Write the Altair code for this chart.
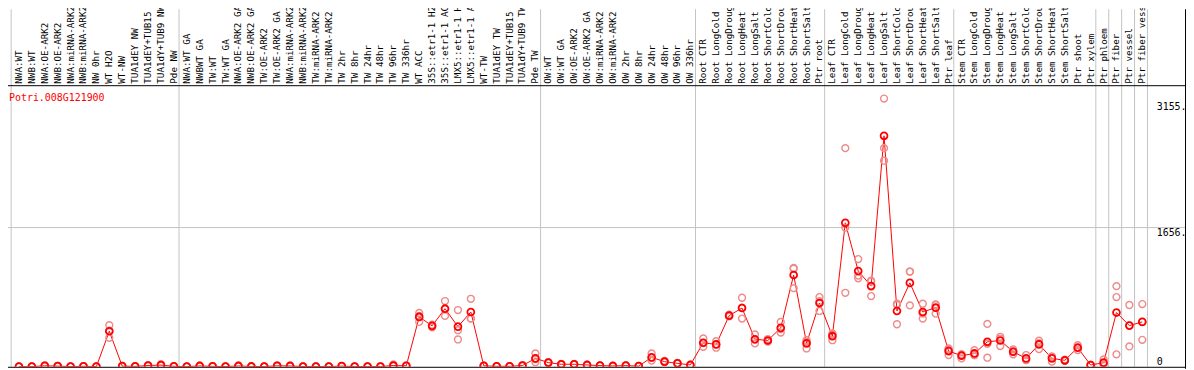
import altair as alt
import pandas as pd

gene = ["Potri.008G121900"]

labels = [
    "NWA:WT", "NWB:WT", "NWA:OE-ARK2", "NWB:OE-ARK2", "NWA:miRNA-ARK2", "NWB:miRNA-ARK2",
    "NW 0hr", "WT H2O", "WT-NW", "TUA1dEY NW", "TUA1dEY+TUB15 NW", "TUA1dY+TUB9 NW", "Pde NW",
    "NWA:WT GA", "NWBWT GA", "TW:WT", "TW:WT GA", "NWA:OE-ARK2 GA", "NWB:OE-ARK2 GA",
    "TW:OE-ARK2", "TW:OE-ARK2 GA", "NWA:miRNA-ARK2", "NWB:miRNA-ARK2", "TW:miRNA-ARK2",
    "TW:miRNA-ARK2", "TW 2hr", "TW 8hr", "TW 24hr", "TW 48hr", "TW 96hr", "TW 336hr", "WT ACC",
    "35S::etr1-1 H2O", "35S::etr1-1 ACC", "LMX5::etr1-1 H2O", "LMX5::etr1-1 ACC", "WT-TW",
    "TUA1dEY TW", "TUA1dEY+TUB15 TW", "TUA1dY+TUB9 TW", "Pde TW",
    "OW:WT", "OW:WT GA", "OW:OE-ARK2", "OW:OE-ARK2 GA", "OW:miRNA-ARK2", "OW:miRNA-ARK2",
    "OW 2hr", "OW 8hr", "OW 24hr", "OW 48hr", "OW 96hr", "OW 336hr",
    "Root CTR", "Root LongCold", "Root LongDrought", "Root LongHeat", "Root LongSalt",
    "Root ShortCold", "Root ShortDrought", "Root ShortHeat", "Root ShortSalt", "Ptr root",
    "Leaf CTR", "Leaf LongCold", "Leaf LongDrought", "Leaf LongHeat", "Leaf LongSalt",
    "Leaf ShortCold", "Leaf ShortDrought", "Leaf ShortHeat", "Leaf ShortSalt", "Ptr leaf",
    "Stem CTR", "Stem LongCold", "Stem LongDrought", "Stem LongHeat", "Stem LongSalt",
    "Stem ShortCold", "Stem ShortDrought", "Stem ShortHeat", "Stem ShortSalt", "Ptr shoot",
    "Ptr xylem", "Ptr phloem", "Ptr fiber", "Ptr vessel", "Ptr fiber vessel",
]

means = [
    2, 3, 12, 8, 3, 6, 3, 423, 8, 5, 15, 20, 6,
    2, 10, 5, 3, 10, 4, 3, 12, 10, 3, 3, 3, 8, 3, 3, 3, 15, 12, 593,
    487, 691, 478, 652, 12, 6, 6, 15, 100,
    50, 30, 30, 22, 14, 10, 14, 8, 112, 61, 41, 22,
    286, 266, 608, 699, 328, 313, 463, 1092, 278, 758,
    364, 1712, 1139, 960, 2747, 664, 998, 652, 703, 187,
    132, 159, 297, 313, 179, 100, 266, 100, 77, 227, 21,
    49, 645, 490, 534,
]

rep1 = [
    1, 2, 8, 5, 2, 4, 2, 494, 5, 3, 10, 12, 4,
    1, 6, 3, 2, 6, 3, 2, 8, 6, 2, 2, 2, 5, 2, 2, 2, 8, 8, 640,
    500, 782, 675, 809, 8, 4, 4, 10, 159,
    55, 35, 34, 25, 16, 12, 16, 10, 159, 70, 45, 25,
    337, 305, 620, 821, 384, 330, 534, 1175, 316, 829,
    396, 2600, 1281, 1025, 3190, 750, 1131, 750, 742, 218,
    148, 198, 510, 357, 207, 140, 310, 120, 85, 257, 25,
    88, 959, 735, 746,
]

rep2 = [
    2, 3, 10, 8, 3, 6, 3, 430, 8, 5, 15, 18, 6,
    2, 10, 5, 3, 10, 4, 3, 12, 10, 3, 3, 3, 8, 3, 3, 3, 12, 12, 605,
    490, 686, 435, 573, 12, 6, 6, 15, 90,
    48, 30, 30, 22, 14, 10, 14, 8, 105, 60, 40, 22,
    283, 266, 605, 703, 322, 310, 448, 1166, 300, 781,
    380, 1656, 1084, 1014, 2600, 736, 1133, 633, 735, 203,
    148, 140, 273, 336, 182, 80, 280, 120, 76, 226, 20,
    38, 829, 493, 535,
]

rep3 = [
    3, 4, 18, 12, 4, 9, 4, 345, 12, 7, 20, 32, 8,
    3, 14, 7, 4, 15, 5, 4, 18, 15, 4, 4, 4, 12, 4, 4, 4, 28, 16, 534,
    470, 605, 325, 575, 16, 8, 8, 20, 53,
    45, 25, 26, 19, 12, 8, 12, 6, 73, 53, 38, 19,
    238, 227, 599, 573, 278, 299, 407, 935, 218, 664,
    316, 880, 1053, 841, 2451, 506, 730, 573, 632, 140,
    100, 139, 108, 246, 148, 80, 210, 61, 70, 198, 18,
    21, 148, 242, 321,
]

group_sizes = [13, 28, 12, 10, 10, 11, 1, 1, 1, 1]
axis_values = [0, 1656, 3155]
grid_values = [1656]

# layout constants (pixels)
W = 1185
H = 283
TOP = 77
XDOM = [-0.846, 90.308]
YDOM = [0, 3343]
MONO = "DejaVu Sans Mono"

idx = list(range(len(labels)))
df = pd.DataFrame({"i": idx, "label": labels, "mean": means})
reps = pd.DataFrame({"i": idx * 3, "value": rep1 + rep2 + rep3})

starts = [0]
for s in group_sizes:
    starts.append(starts[-1] + s)
seps = pd.DataFrame({"s": [c - 0.6 for c in starts]})
grid = pd.DataFrame({"g": grid_values})

xscale = alt.Scale(domain=XDOM, nice=False, zero=False)
yscale = alt.Scale(domain=YDOM, nice=False, zero=True)
yaxis = alt.Axis(
    orient="right", values=axis_values, title=None, grid=False, domain=False,
    ticks=False, tickSize=0, labelAlign="left", labelPadding=-29,
    labelFont=MONO, labelFontSize=10, labelColor="black", labelFlush=False,
    format="d",
    labelExpr="datum.value == 0 ? '0' : datum.label + '.'",
    labelBaseline={"condition": {"test": "datum.value == 0", "value": "bottom"}, "value": "top"},
)

vlines = alt.Chart(seps).mark_rule(color="#c4c4c4", strokeWidth=1).encode(
    x=alt.X("s:Q", scale=xscale, axis=None),
    y=alt.value(-TOP), y2=alt.value(H),
)
hline = alt.Chart(grid).mark_rule(color="#c4c4c4", strokeWidth=1).encode(
    y=alt.Y("g:Q", scale=yscale, axis=yaxis),
)
frame_df = pd.DataFrame({"k": [0]})
top_line = alt.Chart(frame_df).mark_rule(color="black", strokeWidth=1).encode(
    x=alt.value(0), x2=alt.value(W), y=alt.value(0))
bottom_line = alt.Chart(frame_df).mark_rule(color="black", strokeWidth=1).encode(
    x=alt.value(0), x2=alt.value(W), y=alt.value(H + 0.5))
right_line = alt.Chart(frame_df).mark_rule(color="black", strokeWidth=1).encode(
    x=alt.value(W + 0.5), y=alt.value(-TOP), y2=alt.value(H + 2))

line = alt.Chart(df).mark_line(color="#ff0000", strokeWidth=1, clip=True).encode(
    x=alt.X("i:Q", scale=xscale, axis=None),
    y=alt.Y("mean:Q", scale=yscale, axis=yaxis),
)
rep_pts = alt.Chart(reps).mark_point(
    shape="circle", filled=False, color="#ef8a8a", size=48, strokeWidth=1.4,
    opacity=1, clip=True,
).encode(
    x=alt.X("i:Q", scale=xscale, axis=None),
    y=alt.Y("value:Q", scale=yscale, axis=yaxis),
)
mean_pts = alt.Chart(df).mark_point(
    shape="circle", filled=False, color="#ff0000", size=48, strokeWidth=1.8,
    opacity=1, clip=True,
).encode(
    x=alt.X("i:Q", scale=xscale, axis=None),
    y=alt.Y("mean:Q", scale=yscale, axis=yaxis),
)
header = alt.Chart(df).mark_text(
    angle=270, align="left", baseline="middle", font=MONO, fontSize=9.3, color="black",
).encode(
    x=alt.X("i:Q", scale=xscale, axis=None),
    y=alt.value(-2),
    text="label:N",
)
title = alt.Chart(pd.DataFrame({"g": gene})).mark_text(
    align="left", baseline="middle", font=MONO, fontSize=10, color="#ff0000",
).encode(x=alt.value(1), y=alt.value(12), text="g:N")

chart = alt.layer(
    vlines, hline, top_line, bottom_line, right_line, line, rep_pts, mean_pts, header, title
).properties(
    width=W, height=H,
    autosize=alt.AutoSizeParams(type="none"),
    padding={"left": 0, "top": TOP, "right": 1, "bottom": 2},
    background="white",
).configure_view(stroke=None)

chart.save("out.html", embed_options={"renderer": "svg", "actions": False})
